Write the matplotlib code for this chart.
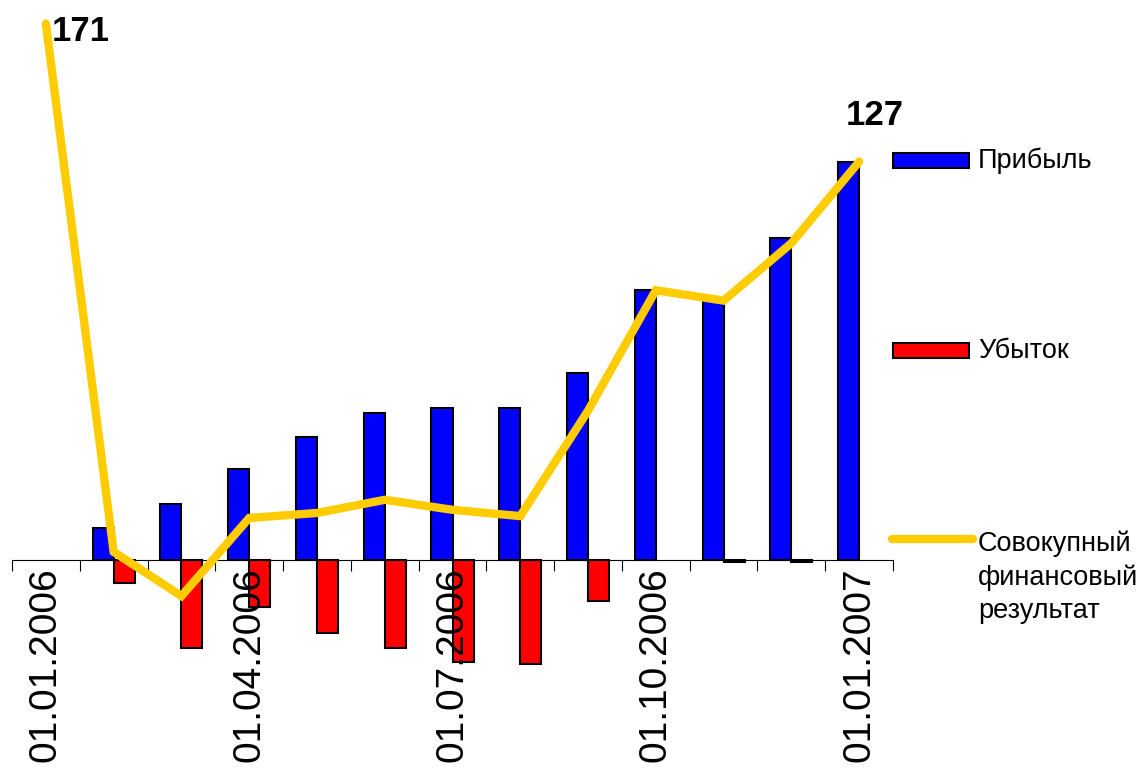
import matplotlib
matplotlib.use("Agg")
import matplotlib.pyplot as plt
from matplotlib.patches import Rectangle
from matplotlib.lines import Line2D
import numpy as np

plt.rcParams['font.family'] = ['Liberation Sans', 'DejaVu Sans']

# monthly data, 01.01.2006 .. 01.01.2007 (None = no bar for that month)
dates = ["01.01.2006", "01.02.2006", "01.03.2006", "01.04.2006", "01.05.2006",
         "01.06.2006", "01.07.2006", "01.08.2006", "01.09.2006", "01.10.2006",
         "01.11.2006", "01.12.2006", "01.01.2007"]
profit = [None, 10.2, 17.9, 29.0, 39.3, 47.0, 48.6, 48.6, 59.7, 86.0, 82.7, 102.6, 127.0]
loss = [None, -7.3, -28.0, -15.0, -23.3, -28.0, -32.6, -33.2, -13.1, None, -0.6, -0.6, None]
total = [171, 2.6, -11.5, 13.4, 15.0, 19.2, 16.0, 14.0, 47.6, 86.0, 82.7, 101.0, 127]
shown_labels = [0, 3, 6, 9, 12]

legend_names = ["Прибыль", "Убыток", "Совокупный\nфинансовый\nрезультат"]
blue = "#0000FF"
red = "#FF0000"
gold = "#FFCC00"

W, H = 1144, 769
fig = plt.figure(figsize=(W / 100, H / 100), dpi=100)
ax = fig.add_axes([12 / W, 0.1086, (893 - 12) / W, 0.877])

x = np.arange(len(dates))
bw = 0.31
profit_arr = np.array([np.nan if v is None else v for v in profit])
loss_arr = np.array([np.nan if v is None else v for v in loss])
has_p = ~np.isnan(profit_arr)
has_l = ~np.isnan(loss_arr)
ax.bar(x[has_p] - bw / 2, profit_arr[has_p], width=bw, color=blue, edgecolor="black",
       linewidth=1.5, zorder=1)
ax.bar(x[has_l] + bw / 2, loss_arr[has_l], width=bw, color=red, edgecolor="black",
       linewidth=1.5, zorder=1)
ax.plot(x, total, color=gold, linewidth=6, solid_capstyle="round",
        solid_joinstyle="miter", zorder=3)

# value labels at the ends of the line
ax.annotate(str(total[0]), (x[0], total[0]), xytext=(4.3, -12.2), textcoords="offset points",
            ha="left", va="baseline", fontsize=25, fontweight="bold")
ax.annotate(str(total[-1]), (x[-1], total[-1]), xytext=(11.5, 26.6), textcoords="offset points",
            ha="center", va="baseline", fontsize=25, fontweight="bold")

ax.set_xlim(-0.5, len(dates) - 0.5)
ax.set_ylim(-40, 175)
for s in ["left", "right", "top"]:
    ax.spines[s].set_visible(False)
ax.spines["bottom"].set_position(("data", 0))
ax.spines["bottom"].set_linewidth(0.8)
ax.set_yticks([])

ax.set_xticks(np.arange(-0.5, len(dates)), labels=[])
ax.tick_params(axis="x", which="major", direction="out", length=8, width=0.8)
ax.set_xticks([x[i] for i in shown_labels], labels=[dates[i] for i in shown_labels], minor=True)
ax.tick_params(axis="x", which="minor", length=0, pad=5, labelsize=28, labelrotation=90)


def fx(px):
    return px / W


def fy(py):
    return 1 - py / H


# legend on the right
fig.add_artist(Rectangle((fx(893), fy(168)), fx(969) - fx(893), fy(153) - fy(168),
                         transform=fig.transFigure, facecolor=blue, edgecolor="black", linewidth=1.5))
fig.add_artist(Rectangle((fx(893), fy(358)), fx(969) - fx(893), fy(343) - fy(358),
                         transform=fig.transFigure, facecolor=red, edgecolor="black", linewidth=1.5))
fig.add_artist(Line2D([fx(892), fx(973)], [fy(539), fy(539)], transform=fig.transFigure,
                      color=gold, linewidth=6, solid_capstyle="round"))
fig.text(fx(978), fy(161), legend_names[0], fontsize=19.5, va="center", ha="left")
fig.text(fx(978), fy(351), legend_names[1], fontsize=19.5, va="center", ha="left")
fig.text(fx(978), fy(577), legend_names[2], fontsize=19.5, va="center", ha="left", linespacing=1.35)

fig.savefig("out.png", dpi=100)
